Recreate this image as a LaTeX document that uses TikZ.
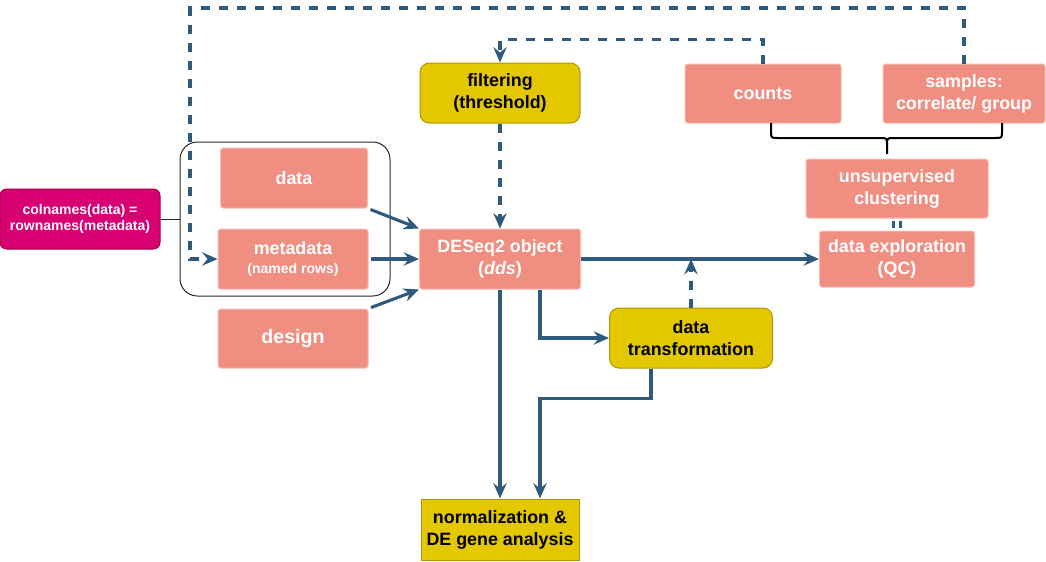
\documentclass[tikz,border=0pt]{standalone}
\usepackage{fontspec}
\setmainfont{Liberation Sans}
\usetikzlibrary{arrows.meta,calc}

\definecolor{salmon}{HTML}{F08E81}
\definecolor{mustard}{HTML}{E3C800}
\definecolor{mustarddark}{HTML}{B09500}
\definecolor{berry}{HTML}{D80073}
\definecolor{berrydark}{HTML}{A50040}
\definecolor{flowblue}{HTML}{2D5A7D}

\begin{document}
\begin{tikzpicture}[x=0.75pt,y=-0.75pt,
    every node/.style={font=\bfseries\fontsize{13.4}{16.5}\selectfont,align=center,inner sep=0pt},
    boxsize/.style 2 args={minimum width=#1*0.75pt,minimum height=#2*0.75pt},
    pinkbox/.style={fill=salmon,draw=salmon!60!white,line width=0.75pt,rounded corners=2pt,text=white},
    yellowbox/.style={fill=mustard,draw=mustarddark,line width=0.75pt,rounded corners=7pt,text=black},
    flow/.style={draw=flowblue,line width=2.3pt,-{Stealth[length=11.5pt,width=10pt,inset=4pt]}},
    dashflow/.style={flow,dash pattern=on 6.75pt off 6.75pt},
    brace/.style={draw=black,line width=1.5pt}]
    \useasboundingbox (0,0) rectangle (1046,561);

    \node[pinkbox,fill=berry,draw=berrydark,rounded corners=5pt,boxsize={160}{60},font=\bfseries\fontsize{10.5}{11.5}\selectfont] (match) at (80,219) {colnames(data) =\\rownames(metadata)};
    \node[draw=black!85,line width=0.75pt,rounded corners=13pt,boxsize={210}{154}] (inputs) at (285,219) {};
    \node[pinkbox,boxsize={147}{60}] (data) at (294,178) {data};
    \node[pinkbox,boxsize={150}{60}] (meta) at (293,259) {metadata\\[-2pt]{\fontsize{10.5}{12}\selectfont(named rows)}};
    \node[pinkbox,boxsize={150}{59},font=\bfseries\fontsize{14.7}{17}\selectfont] (design) at (293,338.5) {design};
    \node[pinkbox,boxsize={161}{60}] (dds) at (500,259) {DESeq2 object\\(\textit{dds})};
    \node[yellowbox,boxsize={160}{60}] (filt) at (500,93) {filtering\\(threshold)};
    \node[pinkbox,boxsize={156}{59}] (counts) at (763,93.5) {counts};
    \node[pinkbox,boxsize={162}{59}] (samples) at (964,93.5) {samples:\\correlate/ group};
    \node[pinkbox,boxsize={182}{59}] (uns) at (897,188.5) {unsupervised\\clustering};
    \node[pinkbox,boxsize={155}{56}] (explore) at (897,259) {data exploration\\(QC)};
    \node[yellowbox,boxsize={163}{60}] (trans) at (691,338) {data\\transformation};
    \node[yellowbox,rounded corners=0pt,boxsize={158}{61}] (norm) at (500,529.5) {normalization \&\\DE gene analysis};

    \coordinate (loopcorner) at (190,8);
    \coordinate (bracel) at (771,123);
    \coordinate (bracer) at (1002,123);
    \coordinate (bracetip) at (887,154);

    \draw[black!85,line width=0.75pt] (match.east) -- (inputs.west);
    \draw[flow,shorten <=2pt] (data.south east) -- (dds.north west);
    \draw[flow,shorten <=2pt] (meta.east) -- (dds.west);
    \draw[flow,shorten <=2pt] (design.north east) -- (dds.south west);
    \draw[dashflow] (samples.north) |- (loopcorner) |- (meta.west);
    \draw[dashflow] (counts.north) -- ++(0,-24) -| (filt.north);
    \draw[dashflow] (filt.south) -- (dds.north);
    \draw[flow] (dds.east) -- (explore.west);
    \draw[dashflow] (trans.north) -- (trans.north |- dds.east);
    \draw[flow] (dds.south) -- (norm.north);
    \draw[flow] ($(dds.south)+(40,0)$) |- (trans.west);
    \draw[flow] ($(trans.south)+(-40,0)$) -- ++(0,30) -| ($(norm.north)+(40,0)$);
    \draw[draw=flowblue,line width=2pt,double=white,double distance=3pt,shorten <=2pt,shorten >=2pt] (uns.south) -- (explore.north);
    \draw[brace] (bracel) -- ++(0,8) .. controls ++(0,7) .. ++(7,7) -- ($(bracetip)+(-7,-16)$) .. controls ($(bracetip)+(0,-16)$) .. ($(bracetip)+(0,-9)$) -- (bracetip);
    \draw[brace] (bracer) -- ++(0,8) .. controls ++(0,7) .. ++(-7,7) -- ($(bracetip)+(7,-16)$) .. controls ($(bracetip)+(0,-16)$) .. ($(bracetip)+(0,-9)$);
\end{tikzpicture}
\end{document}
